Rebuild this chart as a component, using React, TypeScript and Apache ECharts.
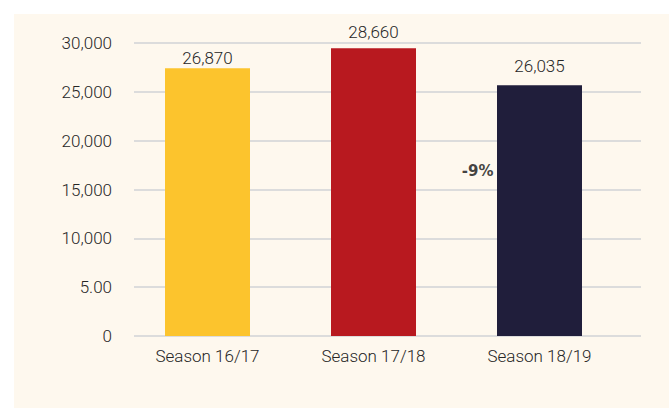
import React, { useEffect, useRef } from "react";
import * as echarts from "echarts";

const categories = ["Season 16/17", "Season 17/18", "Season 18/19"];
const barHeights = [27410, 29460, 25670];
const valueLabels = ["26,870", "28,660", "26,035"];
const barColors = ["#fcc42d", "#b8191f", "#201e3b"];
const yTickLabels = ["0", "5.00", "10,000", "15,000", "20,000", "25,000", "30,000"];
const changeNote = { category: "Season 18/19", value: 16930, text: "-9%" };

const FONT = "Roboto, 'Noto Sans', sans-serif";
const TEXT = "#262626";
const labelGaps = [2, 8, 11];

export default function App() {
  const ref = useRef<HTMLDivElement>(null);
  useEffect(() => {
    document.body.style.margin = "0";
    const chart = echarts.init(ref.current!, null, { renderer: "svg" });
    chart.setOption({
      animation: false,
      backgroundColor: "transparent",
      grid: [
        { left: 134, right: 28, top: 43, bottom: 73 },
        { left: 124.5, right: 46.5, top: 43, bottom: 73 },
      ],
      xAxis: [
        { type: "category", gridIndex: 0, data: categories, show: false },
        {
          type: "category",
          gridIndex: 1,
          data: categories,
          axisLine: { show: false },
          axisTick: { show: false },
          axisLabel: { color: TEXT, fontSize: 17, fontWeight: 300, fontFamily: FONT, margin: 11 },
        },
      ],
      yAxis: [
        {
          type: "value",
          gridIndex: 0,
          min: 0,
          max: 30000,
          interval: 5000,
          axisLine: { show: false },
          axisTick: { show: false },
          splitLine: { lineStyle: { color: "#dcdcdc", width: 2 } },
          axisLabel: {
            color: TEXT,
            fontSize: 17,
            fontWeight: 300,
            fontFamily: FONT,
            margin: 22,
            formatter: (v: number) => yTickLabels[Math.round(v / 5000)] ?? "",
          },
        },
        { type: "value", gridIndex: 1, min: 0, max: 30000, show: false },
      ],
      series: [
        {
          type: "bar",
          xAxisIndex: 1,
          yAxisIndex: 1,
          barWidth: 85,
          data: barHeights.map((v, i) => ({
            value: v,
            itemStyle: { color: barColors[i] },
            label: { formatter: valueLabels[i], distance: labelGaps[i] },
          })),
          label: {
            show: true,
            position: "top",
            color: TEXT,
            fontSize: 17,
            fontWeight: 300,
            fontFamily: FONT,
          },
        },
        {
          type: "scatter",
          xAxisIndex: 1,
          yAxisIndex: 1,
          symbolSize: 0,
          data: [[changeNote.category, changeNote.value]],
          label: {
            show: true,
            position: "left",
            distance: 46,
            formatter: changeNote.text,
            color: "#111111",
            fontSize: 15,
            fontWeight: "bold",
            fontFamily: "'DejaVu Sans', sans-serif",
          },
        },
      ],
    });
    return () => chart.dispose();
  }, []);
  return (
    <div style={{ position: "relative", width: 669, height: 409, background: "#ffffff" }}>
      <div
        style={{
          position: "absolute",
          left: 14,
          top: 14,
          width: 655,
          height: 394,
          background: "#fef8ee",
        }}
      />
      <div ref={ref} style={{ position: "absolute", left: 0, top: 0, width: 669, height: 409 }} />
    </div>
  );
}
